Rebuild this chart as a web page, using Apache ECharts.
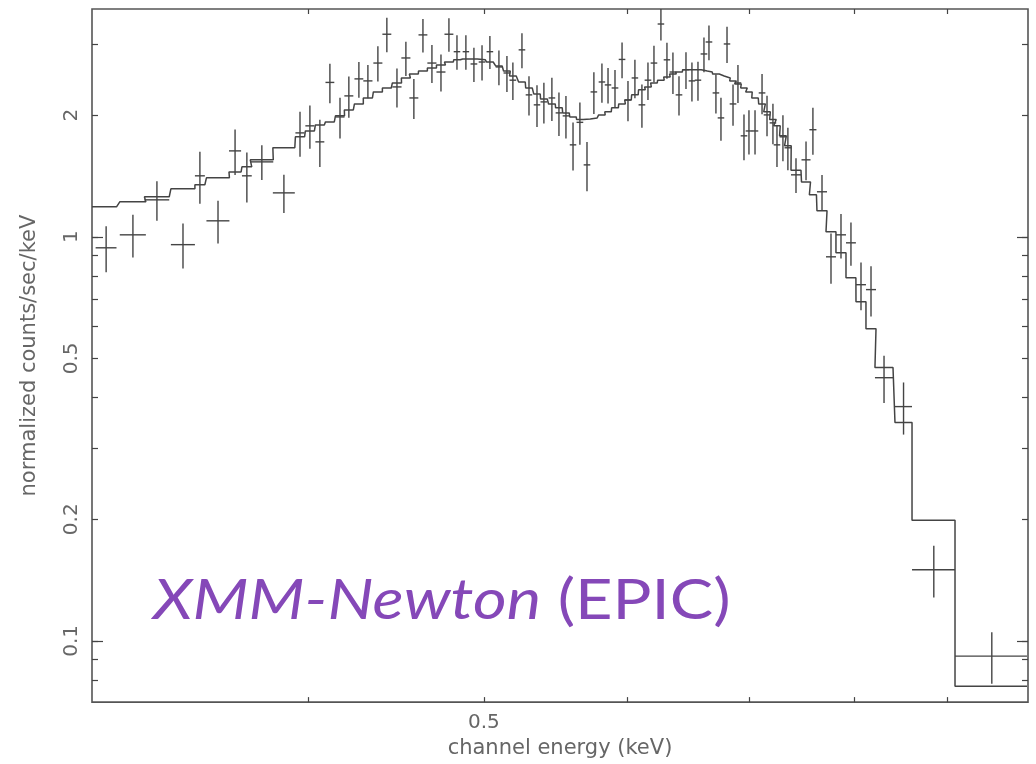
<!DOCTYPE html>
<html><head><meta charset="utf-8">
<script src="https://cdn.jsdelivr.net/npm/echarts@6/dist/echarts.min.js"></script>
<style>html,body{margin:0;padding:0;background:#fff}#c{width:1036px;height:764px}</style>
</head><body><div id="c"></div>
<script>
// channel energy (keV), bin centres and half widths
const energy = [
0.3097,0.3204,0.3303,0.3414,0.3488,0.3569,0.3647,0.3702,0.3773,0.3880,
0.3960,0.4010,0.4061,0.4113,0.4166,0.4213,0.4267,0.4316,0.4371,0.4421,
0.4478,0.4529,0.4575,0.4628,0.4681,0.4735,0.4783,0.4832,0.4887,0.4937,
0.4988,0.5038,0.5096,0.5148,0.5187,0.5247,0.5294,0.5348,0.5395,0.5450,
0.5499,0.5548,0.5598,0.5647,0.5698,0.5748,0.5807,0.5852,0.5904,0.5957,
0.6002,0.6055,0.6109,0.6156,0.6203,0.6258,0.6306,0.6354,0.6403,0.6460,
0.6509,0.6559,0.6609,0.6651,0.6710,0.6753,0.6805,0.6857,0.6900,0.6953,
0.6997,0.7051,0.7114,0.7159,0.7213,0.7250,0.7305,0.7351,0.7427,0.7522,
0.7588,0.7676,0.7764,0.7863,0.7963,0.8065,0.8168,0.8304,0.8512,0.8845,
0.952];
const energyHalfWidth = [
0.0041,0.0053,0.0052,0.0052,0.0022,0.0052,0.0028,0.0023,0.0055,0.0054,
0.0023,0.0023,0.0023,0.0023,0.0024,0.0024,0.0024,0.0025,0.0025,0.0025,
0.0026,0.0026,0.0026,0.0026,0.0027,0.0027,0.0027,
0.0020,0.0020,0.0021,0.0021,0.0021,0.0021,0.0022,0.0022,0.0022,0.0022,0.0022,0.0023,0.0023,
0.0023,0.0023,0.0023,0.0024,0.0024,0.0024,0.0024,0.0024,0.0025,0.0025,
0.0025,0.0025,0.0026,0.0026,0.0026,0.0026,0.0026,0.0027,0.0027,0.0027,
0.0027,0.0027,0.0028,0.0028,0.0028,0.0028,0.0028,0.0029,0.0029,0.0029,
0.0029,0.0029,0.0030,0.0030,0.0030,0.0030,0.0031,0.0031,
0.0047,0.0043,0.0034,0.0049,
0.0049,0.0050,0.0050,0.0051,0.0052,
0.0095,0.0092,0.0241,0.0434];
// normalized counts/sec/keV and 1-sigma errors
const rate = [
0.939,1.011,1.234,0.956,1.415,1.095,1.631,1.415,1.532,1.284,
1.807,1.881,1.717,2.409,1.979,2.231,2.458,2.430,2.69,3.17,
2.348,2.769,2.205,3.158,2.69,2.556,3.17,2.87,2.87,2.676,
2.706,2.87,2.631,2.542,2.44,2.90,2.244,2.12,2.156,2.205,
2.025,1.991,1.688,1.919,1.506,2.282,2.415,2.375,2.334,2.746,
2.18,2.471,2.12,2.44,2.69,3.36,2.74,2.556,2.244,2.59,
2.43,2.44,2.833,3.033,2.269,1.968,2.999,2.131,2.402,1.777,
1.827,1.827,2.269,2.002,1.913,1.688,1.767,1.66,1.423,1.55,
1.84,1.292,0.892,1.011,0.966,0.761,0.74,0.448,0.380,0.150,
0.0917];
const rateErr = [
0.122,0.123,0.138,0.122,0.209,0.133,0.21,0.20,0.151,0.139,
0.23,0.23,0.23,0.27,0.23,0.26,0.25,0.23,0.27,0.31,
0.26,0.27,0.25,0.30,0.29,0.27,0.30,0.28,0.28,0.26,
0.27,0.27,0.26,0.26,0.26,0.29,0.25,0.25,0.25,0.27,
0.25,0.24,0.23,0.23,0.21,0.27,0.27,0.24,0.25,0.28,
0.25,0.27,0.26,0.26,0.28,0.30,0.28,0.30,0.25,0.27,
0.27,0.27,0.28,0.30,0.25,0.24,0.31,0.25,0.26,0.23,
0.23,0.23,0.26,0.23,0.22,0.20,0.23,0.20,0.14,0.17,
0.245,0.13,0.127,0.128,0.118,0.103,0.105,0.060,0.056,0.022,
0.0133];
// folded model per bin
const model = [
1.186,1.220,1.256,1.314,1.345,1.399,1.447,1.489,1.55,1.66,
1.767,1.827,1.891,1.924,1.991,2.06,2.131,2.205,2.282,2.334,
2.402,2.471,2.527,2.57,2.616,2.661,2.706,2.74,2.754,2.754,
2.74,2.706,2.646,2.57,2.499,2.415,2.334,2.256,2.193,2.131,
2.084,2.025,1.979,1.95,1.957,1.968,2.002,2.037,2.084,2.131,
2.18,2.244,2.31,2.348,2.402,2.44,2.486,2.527,2.556,2.59,
2.59,2.59,2.57,2.556,2.527,2.499,2.471,2.43,2.388,2.334,
2.282,2.205,2.131,2.037,1.95,1.881,1.777,1.679,1.46,1.367,
1.27,1.16,1.029,0.913,0.792,0.691,0.592,0.475,0.347,0.199,
0.0773];
const xTickValues = [0.4,0.5,0.6,0.7,0.8,0.9];
const xLabelValues = [0.5];
const yMinorTicks = [0.08,0.09,0.1,0.2,0.3,0.4,0.5,0.6,0.7,0.8,0.9,1,2,3];
const yMajorTicks = [0.1,1];
const yLabelValues = [0.1,0.2,0.5,1,2];
const xMin = 0.3042, xMax = 0.9967, yMin = 0.07058, yMax = 3.66;

const ink = '#444';
const txt = '#666';
const font = 'DejaVu Sans';

const crossData = energy.map((e,i)=>[e, rate[i], energyHalfWidth[i], rateErr[i]]);
const modelLine = [[xMin, model[0]]];
energy.forEach((e,i)=>{ modelLine.push([e-energyHalfWidth[i], model[i]]); modelLine.push([e+energyHalfWidth[i], model[i]]); });

function xAx(pos, labels){
  return {type:'log', position:pos, min:xMin, max:xMax, gridIndex:0,
    axisLine:{show:false}, splitLine:{show:false},
    axisTick:{show:true, inside:true, length:5, customValues:xTickValues, lineStyle:{color:ink,width:1.2}},
    axisLabel:{show:labels, customValues:xLabelValues, color:txt, fontFamily:font, fontSize:20, margin:11},
    name: labels ? 'channel energy (keV)' : '', nameLocation:'middle', nameGap:32,
    nameTextStyle:{color:txt, fontFamily:font, fontSize:21}};
}
function yAx(pos, ticks, len, labels){
  return {type:'log', position:pos, min:yMin, max:yMax, gridIndex:0,
    axisLine:{show:false}, splitLine:{show:false},
    axisTick:{show:true, inside:true, length:len, customValues:ticks, lineStyle:{color:ink,width:1.2}},
    axisLabel:{show:labels, customValues:yLabelValues, rotate:90, color:txt, fontFamily:font, fontSize:20, margin:10},
    name: labels ? 'normalized counts/sec/keV' : '', nameLocation:'middle', nameGap:52, nameRotate:90,
    nameTextStyle:{color:txt, fontFamily:font, fontSize:21}};
}

const chart = echarts.init(document.getElementById('c'), null, {renderer:'canvas'});
chart.setOption({
  animation:false,
  backgroundColor:'#fff',
  grid:{left:92, top:9, right:8, bottom:61, show:true, borderColor:'#555', borderWidth:1.6, backgroundColor:'transparent'},
  xAxis:[xAx('bottom', true), xAx('top', false)],
  yAxis:[yAx('left', yMinorTicks, 6, true), yAx('left', yMajorTicks, 11, false), yAx('right', yMinorTicks, 6, false), yAx('right', yMajorTicks, 11, false)],
  graphic:[{type:'text', x:153, y:573, scaleX:1.16, style:{
    text:'{i|XMM-Newton}{n| (EPIC)}', fill:'#8548b8',
    rich:{i:{fontFamily:'Lato', fontStyle:'italic', fontSize:56, fill:'#8548b8'},
          n:{fontFamily:'Lato', fontSize:56, fill:'#8548b8'}}}}],
  series:[
    {type:'line', xAxisIndex:0, yAxisIndex:0, data:modelLine, symbol:'none', silent:true,
     lineStyle:{color:ink, width:1.5}},
    {type:'custom', xAxisIndex:0, yAxisIndex:0, data:crossData, encode:{x:0,y:1}, silent:true,
     renderItem(params, api){
       const e=api.value(0), r=api.value(1), hw=api.value(2), er=api.value(3);
       const l=api.coord([e-hw,r]), rr=api.coord([e+hw,r]);
       const t=api.coord([e,r+er]), b=api.coord([e,r-er]);
       const st={stroke:ink, lineWidth:1.4};
       return {type:'group', children:[
         {type:'line', shape:{x1:l[0],y1:l[1],x2:rr[0],y2:rr[1]}, style:st},
         {type:'line', shape:{x1:t[0],y1:t[1],x2:b[0],y2:b[1]}, style:st}]};
     }}
  ]
});
</script></body></html>
